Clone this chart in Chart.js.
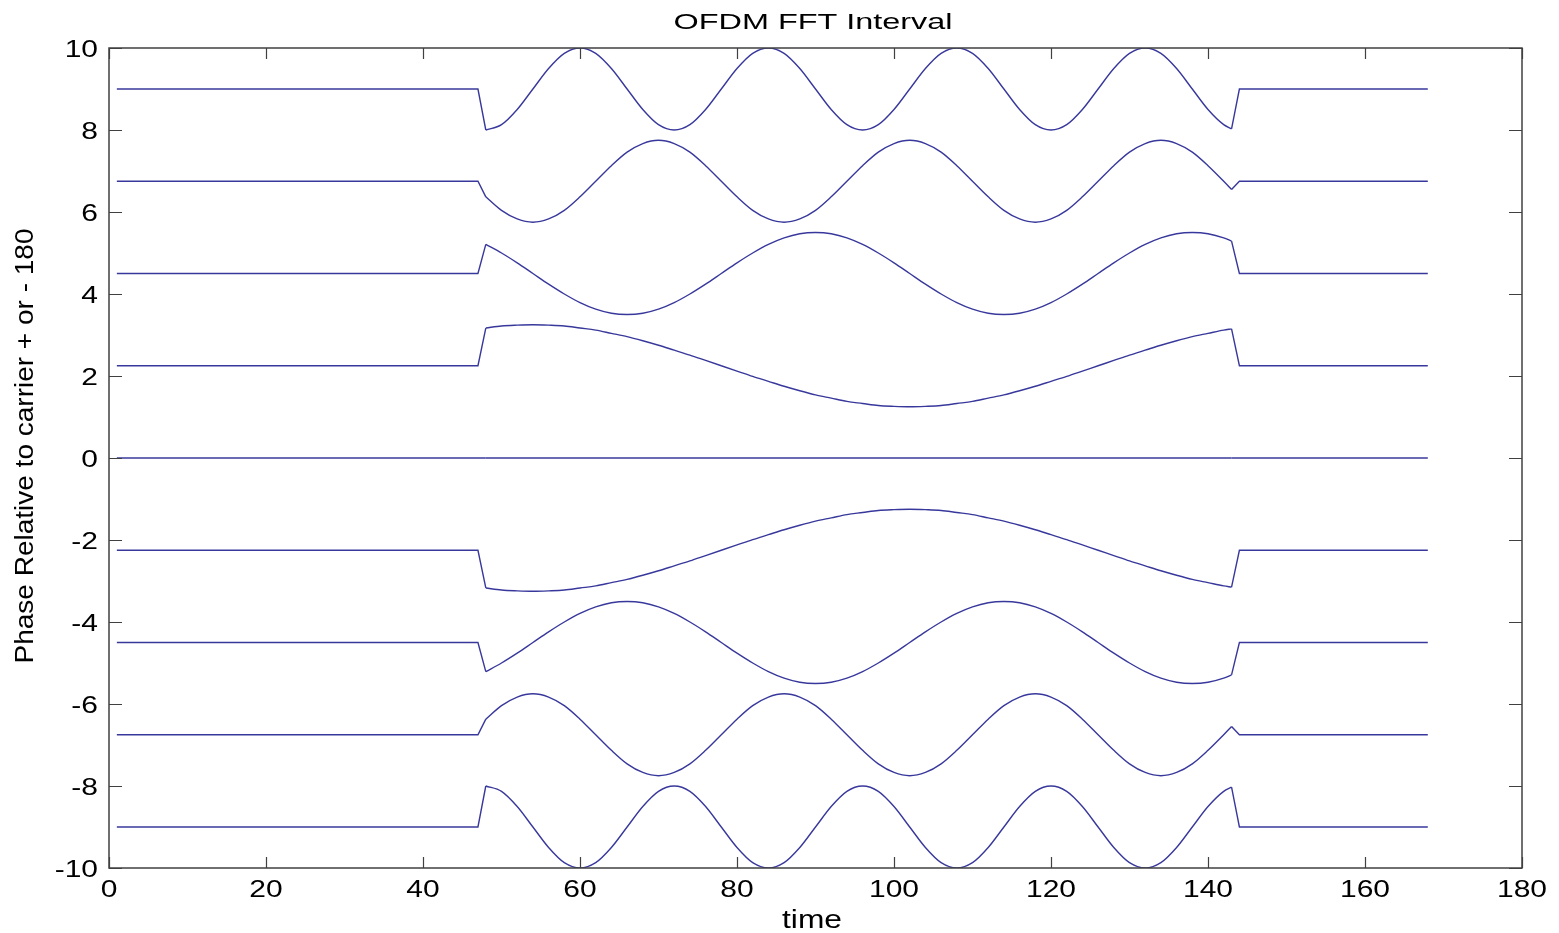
<!DOCTYPE html>
<html>
<head>
<meta charset="utf-8">
<title>OFDM FFT Interval</title>
<script src="https://cdn.jsdelivr.net/npm/chart.js@4/dist/chart.umd.min.js"></script>
<style>
  body { margin: 0; background: #fff; }
  canvas { display: block; }
</style>
</head>
<body>
<canvas id="myChart" width="1559" height="933"></canvas>
<script>
// time samples (flat before 47 and after 144)
const times = [1, 47,
  48, 50, 52, 54, 56, 58, 60, 62, 64, 66, 68, 70, 72, 74, 76, 78, 80, 82, 84, 86, 88, 90, 92, 94,
  96, 98, 100, 102, 104, 106, 108, 110, 112, 114, 116, 118, 120, 122, 124, 126, 128, 130, 132, 134, 136, 138, 140, 142,
  143, 144, 168];

const phase9 = [9, 9,
  8.00, 8.13, 8.50, 9.00, 9.50, 9.87, 10.00, 9.87, 9.50, 9.00, 8.50, 8.13,
  8.00, 8.13, 8.50, 9.00, 9.50, 9.87, 10.00, 9.87, 9.50, 9.00, 8.50, 8.13,
  8.00, 8.13, 8.50, 9.00, 9.50, 9.87, 10.00, 9.87, 9.50, 9.00, 8.50, 8.13,
  8.00, 8.13, 8.50, 9.00, 9.50, 9.87, 10.00, 9.87, 9.50, 9.00, 8.50, 8.13,
  8.03, 9, 9];

const phase675 = [6.75, 6.75,
  6.37, 6.04, 5.83, 5.75, 5.83, 6.04, 6.37, 6.75, 7.13, 7.46, 7.67, 7.75, 7.67, 7.46, 7.13, 6.75,
  6.37, 6.04, 5.83, 5.75, 5.83, 6.04, 6.37, 6.75, 7.13, 7.46, 7.67, 7.75, 7.67, 7.46, 7.13, 6.75,
  6.37, 6.04, 5.83, 5.75, 5.83, 6.04, 6.37, 6.75, 7.13, 7.46, 7.67, 7.75, 7.67, 7.46, 7.13, 6.75,
  6.55, 6.75, 6.75];

const phase45 = [4.5, 4.5,
  5.21, 5.00, 4.76, 4.50, 4.24, 4.00, 3.79, 3.63, 3.53, 3.50, 3.53, 3.63, 3.79, 4.00, 4.24, 4.50, 4.76, 5.00, 5.21, 5.37, 5.47, 5.50, 5.47, 5.37,
  5.21, 5.00, 4.76, 4.50, 4.24, 4.00, 3.79, 3.63, 3.53, 3.50, 3.53, 3.63, 3.79, 4.00, 4.24, 4.50, 4.76, 5.00, 5.21, 5.37, 5.47, 5.50, 5.47, 5.37,
  5.29, 4.5, 4.5];

const phase225 = [2.25, 2.25,
  3.17, 3.22, 3.24, 3.25, 3.24, 3.22, 3.17, 3.12, 3.04, 2.96, 2.86, 2.75, 2.63, 2.51, 2.38, 2.25, 2.12, 1.99, 1.87, 1.75, 1.64, 1.54, 1.46, 1.38,
  1.33, 1.28, 1.26, 1.25, 1.26, 1.28, 1.33, 1.38, 1.46, 1.54, 1.64, 1.75, 1.87, 1.99, 2.12, 2.25, 2.38, 2.51, 2.63, 2.75, 2.86, 2.96, 3.04, 3.12,
  3.15, 2.25, 2.25];

const phase0 = [0, 0,
  0, 0, 0, 0, 0, 0, 0, 0, 0, 0, 0, 0, 0, 0, 0, 0, 0, 0, 0, 0, 0, 0, 0, 0,
  0, 0, 0, 0, 0, 0, 0, 0, 0, 0, 0, 0, 0, 0, 0, 0, 0, 0, 0, 0, 0, 0, 0, 0,
  0, 0, 0];

const phaseM225 = [-2.25, -2.25,
  -3.17, -3.22, -3.24, -3.25, -3.24, -3.22, -3.17, -3.12, -3.04, -2.96, -2.86, -2.75, -2.63, -2.51, -2.38, -2.25, -2.12, -1.99, -1.87, -1.75, -1.64, -1.54, -1.46, -1.38,
  -1.33, -1.28, -1.26, -1.25, -1.26, -1.28, -1.33, -1.38, -1.46, -1.54, -1.64, -1.75, -1.87, -1.99, -2.12, -2.25, -2.38, -2.51, -2.63, -2.75, -2.86, -2.96, -3.04, -3.12,
  -3.15, -2.25, -2.25];

const phaseM45 = [-4.5, -4.5,
  -5.21, -5.00, -4.76, -4.50, -4.24, -4.00, -3.79, -3.63, -3.53, -3.50, -3.53, -3.63, -3.79, -4.00, -4.24, -4.50, -4.76, -5.00, -5.21, -5.37, -5.47, -5.50, -5.47, -5.37,
  -5.21, -5.00, -4.76, -4.50, -4.24, -4.00, -3.79, -3.63, -3.53, -3.50, -3.53, -3.63, -3.79, -4.00, -4.24, -4.50, -4.76, -5.00, -5.21, -5.37, -5.47, -5.50, -5.47, -5.37,
  -5.29, -4.5, -4.5];

const phaseM675 = [-6.75, -6.75,
  -6.37, -6.04, -5.83, -5.75, -5.83, -6.04, -6.37, -6.75, -7.13, -7.46, -7.67, -7.75, -7.67, -7.46, -7.13, -6.75,
  -6.37, -6.04, -5.83, -5.75, -5.83, -6.04, -6.37, -6.75, -7.13, -7.46, -7.67, -7.75, -7.67, -7.46, -7.13, -6.75,
  -6.37, -6.04, -5.83, -5.75, -5.83, -6.04, -6.37, -6.75, -7.13, -7.46, -7.67, -7.75, -7.67, -7.46, -7.13, -6.75,
  -6.55, -6.75, -6.75];

const phaseM9 = [-9, -9,
  -8.00, -8.13, -8.50, -9.00, -9.50, -9.87, -10.00, -9.87, -9.50, -9.00, -8.50, -8.13,
  -8.00, -8.13, -8.50, -9.00, -9.50, -9.87, -10.00, -9.87, -9.50, -9.00, -8.50, -8.13,
  -8.00, -8.13, -8.50, -9.00, -9.50, -9.87, -10.00, -9.87, -9.50, -9.00, -8.50, -8.13,
  -8.00, -8.13, -8.50, -9.00, -9.50, -9.87, -10.00, -9.87, -9.50, -9.00, -8.50, -8.13,
  -8.03, -9, -9];

const xTicks = [0, 20, 40, 60, 80, 100, 120, 140, 160, 180];
const yTicks = [-10, -8, -6, -4, -2, 0, 2, 4, 6, 8, 10];

const allSeries = [phase9, phase675, phase45, phase225, phase0, phaseM225, phaseM45, phaseM675, phaseM9];
const lineColor = "#38389c";

// draws text squeezed/stretched horizontally like the original figure
function drawText(ctx, text, x, y, size, sx, align) {
  ctx.save();
  ctx.translate(x, y);
  ctx.scale(sx, 1);
  ctx.font = size + 'px "Liberation Sans", Arial, sans-serif';
  ctx.textAlign = align;
  ctx.textBaseline = "alphabetic";
  ctx.fillStyle = "#000";
  ctx.fillText(text, 0, 0);
  ctx.restore();
}

const matlabAxes = {
  id: "matlabAxes",
  afterDraw(chart) {
    const ctx = chart.ctx;
    const a = chart.chartArea;
    const xs = chart.scales.x;
    const ys = chart.scales.y;

    ctx.save();
    ctx.strokeStyle = "#404040";
    ctx.lineWidth = 1.5;
    ctx.strokeRect(a.left, a.top, a.right - a.left, a.bottom - a.top);

    ctx.lineWidth = 1.2;
    ctx.beginPath();
    xTicks.forEach(v => {
      const px = Math.round(xs.getPixelForValue(v)) + 0.5;
      ctx.moveTo(px, a.bottom); ctx.lineTo(px, a.bottom - 11);
      ctx.moveTo(px, a.top); ctx.lineTo(px, a.top + 11);
    });
    yTicks.forEach(v => {
      const py = Math.round(ys.getPixelForValue(v)) + 0.5;
      ctx.moveTo(a.left, py); ctx.lineTo(a.left + 13, py);
      ctx.moveTo(a.right, py); ctx.lineTo(a.right - 13, py);
    });
    ctx.stroke();
    ctx.restore();

    xTicks.forEach(v => {
      drawText(ctx, String(v), xs.getPixelForValue(v), a.bottom + 29, 24, 1.25, "center");
    });
    yTicks.forEach(v => {
      drawText(ctx, String(v), a.left - 11, ys.getPixelForValue(v) + 8.5, 24, 1.25, "right");
    });

    // titles
    drawText(ctx, "OFDM FFT Interval", 813, 29, 22.5, 1.44, "center");
    drawText(ctx, "time", 812, 928, 25, 1.27, "center");

    ctx.save();
    ctx.translate(33, 446);
    ctx.rotate(-Math.PI / 2);
    drawText(ctx, "Phase Relative to carrier + or - 180", 0, 0, 25, 1.12, "center");
    ctx.restore();
  }
};

// each trace: straight flat ends with sharp jumps, smooth middle part
const datasets = [];
allSeries.forEach(s => {
  const pts = times.map((t, i) => ({ x: t, y: s[i] }));
  const base = { borderColor: lineColor, borderWidth: 1.4, pointRadius: 0, fill: false };
  datasets.push({ ...base, data: pts.slice(0, 3), tension: 0 });
  datasets.push({ ...base, data: pts.slice(2, 51), cubicInterpolationMode: "monotone" });
  datasets.push({ ...base, data: pts.slice(50), tension: 0 });
});

const ctx = document.getElementById("myChart").getContext("2d");
const myChart = new Chart(ctx, {
  type: "line",
  data: { datasets: datasets },
  options: {
    responsive: false,
    animation: false,
    layout: { padding: { top: 48, right: 37, left: 0, bottom: 0 } },
    plugins: {
      legend: { display: false },
      tooltip: { enabled: false },
      title: { display: false }
    },
    scales: {
      x: {
        type: "linear",
        min: 0,
        max: 180,
        ticks: { display: false, stepSize: 20 },
        grid: { display: false, drawTicks: false },
        border: { display: false },
        afterFit: s => { s.height = 65; }
      },
      y: {
        type: "linear",
        min: -10,
        max: 10,
        ticks: { display: false, stepSize: 2 },
        grid: { display: false, drawTicks: false },
        border: { display: false },
        afterFit: s => { s.width = 109; }
      }
    }
  },
  plugins: [matlabAxes]
});
</script>
</body>
</html>
